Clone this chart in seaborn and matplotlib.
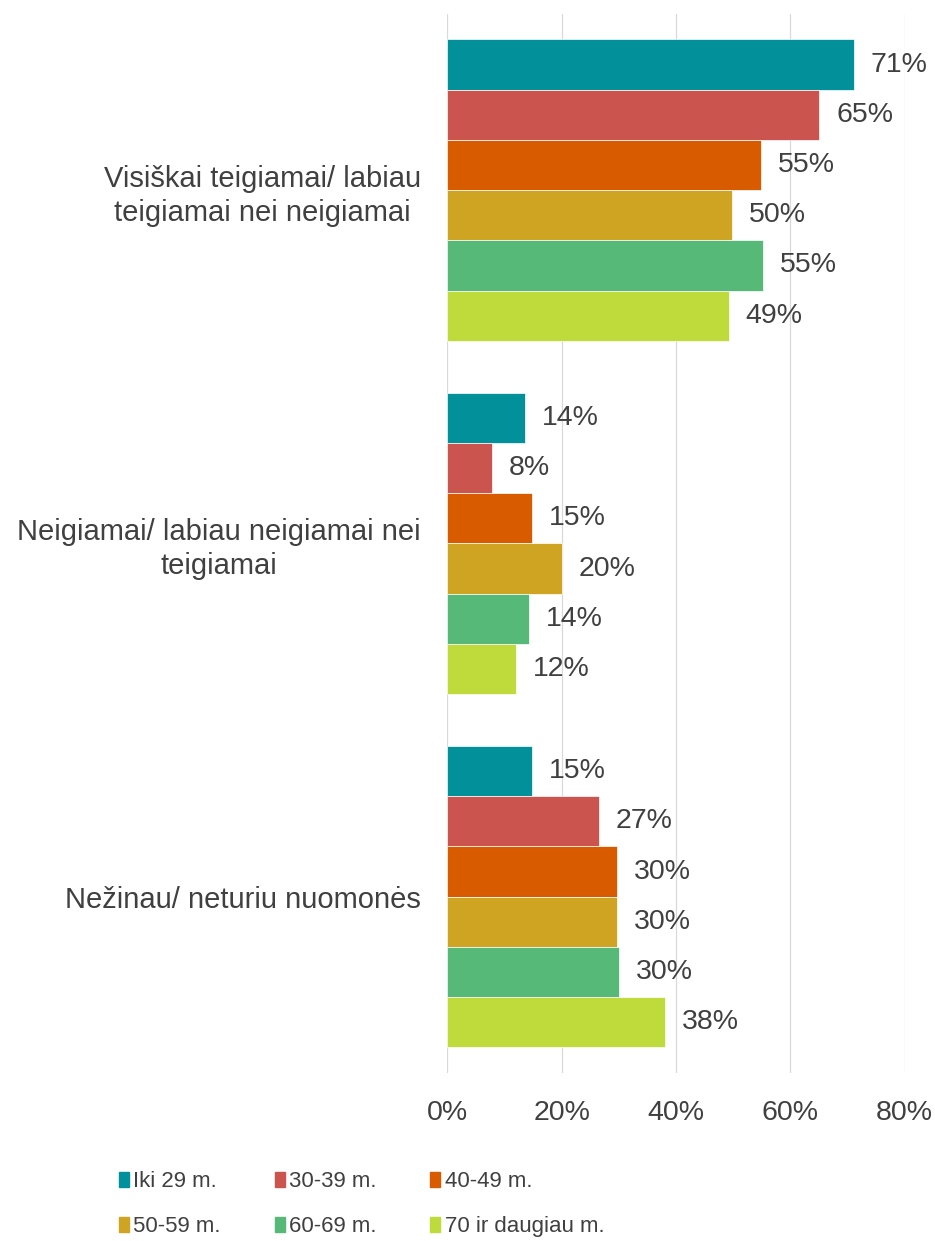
import pandas as pd
import matplotlib.pyplot as plt
import seaborn as sns

# ---------- Data ----------
categories = [
    'Visiškai teigiamai/ labiau\nteigiamai nei neigiamai',
    'Neigiamai/ labiau neigiamai nei\nteigiamai',
    'Nežinau/ neturiu nuomonės',
]
age_groups = ['Iki 29 m.', '30-39 m.', '40-49 m.', '50-59 m.', '60-69 m.', '70 ir daugiau m.']
colors = ['#02909B', '#CB544E', '#D95B00', '#CFA423', '#56B977', '#BEDB3B']

# values per age group, in category order (percent)
iki_29 = [71.2, 13.6, 14.8]
m30_39 = [65.1, 7.9, 26.6]
m40_49 = [54.9, 14.8, 29.7]
m50_59 = [49.8, 20.0, 29.7]
m60_69 = [55.2, 14.3, 30.0]
m70_plus = [49.3, 12.0, 38.1]

series = [iki_29, m30_39, m40_49, m50_59, m60_69, m70_plus]
rows = []
for age, vals in zip(age_groups, series):
    for cat, v in zip(categories, vals):
        rows.append({'category': cat, 'age': age, 'value': v})
df = pd.DataFrame(rows)

# ---------- Plot ----------
sns.set_theme(style='white')
plt.rcParams['font.family'] = ['Liberation Sans', 'DejaVu Sans']
text_color = '#404040'

fig = plt.figure(figsize=(9.35, 12.41), dpi=100)
ax = fig.add_axes([0.4784, 0.1351, 0.489, 0.854])

sns.barplot(data=df, x='value', y='category', hue='age', orient='h',
            palette=colors, saturation=1, width=0.853, order=categories,
            hue_order=age_groups, edgecolor='white', linewidth=0.5,
            legend=False, ax=ax)

for cont in ax.containers:
    ax.bar_label(cont, fmt='{:.0f}%', padding=12, fontsize=20.5, color=text_color)

ax.set_xlim(0, 80)
ax.set_ylim(2.5, -0.5)
ax.set_xticks([0, 20, 40, 60, 80])
ax.set_xticklabels([f'{t}%' for t in [0, 20, 40, 60, 80]])
ax.xaxis.grid(True, color='#D9D9D9', linewidth=0.9)
ax.set_axisbelow(True)
for s in ax.spines.values():
    s.set_visible(False)
ax.set_xlabel('')
ax.set_ylabel('')
ax.tick_params(axis='x', length=0, pad=19, labelsize=20.5, labelcolor=text_color)
ax.tick_params(axis='y', length=0, pad=19, labelsize=21, labelcolor=text_color)
for lbl in ax.get_yticklabels():
    lbl.set_multialignment('center')
    lbl.set_linespacing(1.25)

# legend filled row by row (matplotlib fills columns first)
handles = [plt.Rectangle((0, 0), 1, 1, color=c) for c in colors]
order = [0, 3, 1, 4, 2, 5]
fig.legend([handles[i] for i in order], [age_groups[i] for i in order],
           ncol=3, loc='upper left',
           bbox_to_anchor=(119 / 935, 0.0564), frameon=False, fontsize=16,
           handlelength=0.45, handleheight=0.66, handletextpad=0.2,
           columnspacing=2.42, labelspacing=1.1, borderpad=0, borderaxespad=0,
           labelcolor=text_color)

fig.savefig('out.png', dpi=100)
